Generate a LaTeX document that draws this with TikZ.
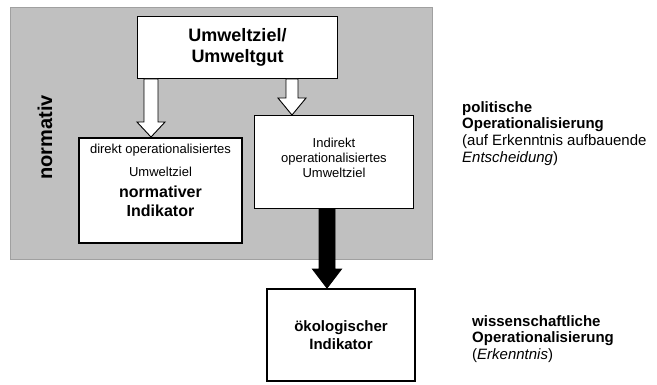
\documentclass[tikz,border=0pt]{standalone}
\usepackage{fontspec}
\setmainfont{Liberation Sans}
\usetikzlibrary{calc,positioning}
\definecolor{feldgrau}{HTML}{C0C0C0}
\definecolor{randgrau}{HTML}{A0A0A0}
\tikzset{
  duennbox/.style={draw, fill=white, line width=0.9pt, inner sep=0pt},
  dickbox/.style={draw, fill=white, line width=2.4pt, inner sep=0pt},
  pfeilrand/.style={draw=black, line width=0.9pt},
  seitentext/.style={anchor=north west, inner sep=0pt, align=left, font=\fontsize{15}{16.7}\selectfont}
}
\newcommand{\grossfett}{\fontsize{16}{19}\selectfont\bfseries}
% breiter Blockpfeil: x, von, nach, halbe Schaftbreite, halbe Spitzenbreite, Spitzenlaenge, Fuellung
\newcommand{\blockpfeil}[7]{%
  \path (#1,0 |- #2) coordinate (pfeilanfang) (#1,0 |- #3) coordinate (pfeilende);
  \filldraw[pfeilrand, #7] ($(pfeilanfang)+(-#4,0)$) -- ($(pfeilende)+(-#4,-#6)$) -- ($(pfeilende)+(-#5,-#6)$)
    -- (pfeilende) -- ($(pfeilende)+(#5,-#6)$) -- ($(pfeilende)+(#4,-#6)$) -- ($(pfeilanfang)+(#4,0)$) -- cycle;}

\begin{document}
\begin{tikzpicture}[x=1pt,y=-1pt]
    \useasboundingbox (0,0) rectangle (657,385);
    \draw[fill=feldgrau, draw=randgrau, line width=1pt] (10,8) rectangle (432,260);
    \node[rotate=90, inner sep=0pt, font=\fontsize{20}{24}\selectfont\bfseries] (normativ) at (45,137.5) {normativ};
    \node[duennbox, minimum width=200pt, minimum height=62pt, align=center, font=\fontsize{18}{21}\selectfont\bfseries] (ziel) at (237.5,47.5) {Umweltziel/\\Umweltgut};
    \node[dickbox, minimum width=163.5pt, minimum height=104.5pt] (direkt) at (160.5,190.5) {};
    \node[below=7pt of direkt.north, inner sep=0pt, align=center, font=\fontsize{13}{19}\selectfont] (direkttext)
        {direkt operationalisiertes\\[4pt]Umweltziel\\[2pt]{\grossfett normativer}\\{\grossfett Indikator}};
    \node[duennbox, minimum width=159pt, minimum height=93pt, align=center, font=\fontsize{13}{15}\selectfont] (indirekt) at (334,162) {Indirekt\\operationalisiertes\\Umweltziel\\[-7pt]};
    \node[dickbox, minimum width=147.5pt, minimum height=91.5pt, align=center, font=\fontsize{15}{18}\selectfont\bfseries] (oeko) at (341,335) {ökologischer\\Indikator};
    \blockpfeil{151}{ziel.south}{direkt.north}{7}{14}{15}{fill=white}
    \blockpfeil{292}{ziel.south}{indirekt.north}{6}{14}{17}{fill=white}
    \blockpfeil{327}{indirekt.south}{oeko.north}{8}{14.5}{19}{fill=black}
    \node[seitentext] (politisch) at (462,101) {\textbf{politische}\\\textbf{Operationalisierung}\\(auf Erkenntnis aufbauende\\\textit{Entscheidung})};
    \node[seitentext] (wissenschaftlich) at (472,315) {\textbf{wissenschaftliche}\\\textbf{Operationalisierung}\\(\textit{Erkenntnis})};
\end{tikzpicture}
\end{document}
